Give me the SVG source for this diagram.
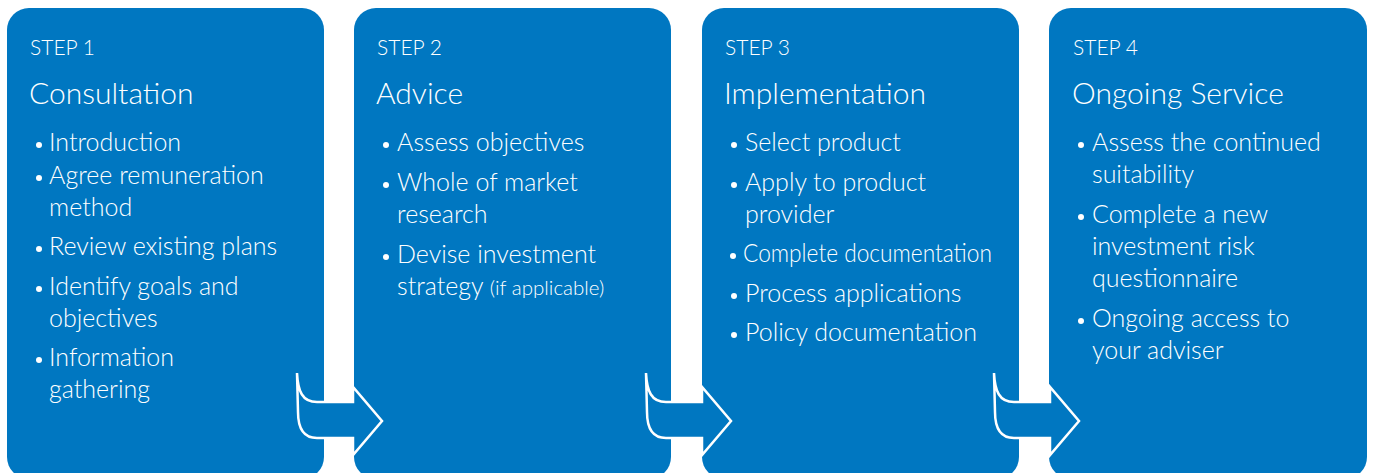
<svg xmlns="http://www.w3.org/2000/svg" xmlns:xlink="http://www.w3.org/1999/xlink" width="1373" height="473" viewBox="0 0 1373 473">
  <style>
    .box { fill: #0077c1; }
    .step { font-family: Lato, "Open Sans", sans-serif; font-size: 21px; font-weight: 300; fill: #ffffff; }
    .title { font-family: Lato, "Open Sans", sans-serif; font-size: 30px; font-weight: 300; fill: #ffffff; }
    .item { font-family: Lato, "Open Sans", sans-serif; font-size: 25px; font-weight: 300; fill: #ffffff; }
    .small { font-size: 20.5px; }
    .dot { fill: #ffffff; }
    .arrow { fill: #0077c1; stroke: #ffffff; stroke-width: 2.5; stroke-linejoin: miter; }
  </style>
  <defs>
    <!-- block arrow linking one step to the next; origin at its tail tip -->
    <path id="step-arrow" class="arrow" d="M0,373 C1,391 5,402 20,402 L56,402 L56,387 L85,421 L56,455 L56,438 L20,438 C6,438 1,428 1,412 Z"/>
  </defs>
  <rect width="1373" height="473" fill="#ffffff"/>

  <g id="step1">
    <rect class="box" x="7" y="8" width="317" height="471" rx="22"/>
    <text class="step" x="30" y="55">STEP 1</text>
    <text class="title" x="29" y="104">Consultation</text>
    <circle class="dot" cx="39" cy="145" r="3"/>
    <text class="item" x="49" y="151">Introduction</text>
    <circle class="dot" cx="39" cy="178" r="3"/>
    <text class="item" x="49" y="184">Agree remuneration</text>
    <text class="item" x="49" y="216">method</text>
    <circle class="dot" cx="39" cy="249" r="3"/>
    <text class="item" x="49" y="255">Review existing plans</text>
    <circle class="dot" cx="39" cy="289" r="3"/>
    <text class="item" x="49" y="295">Identify goals and</text>
    <text class="item" x="49" y="327">objectives</text>
    <circle class="dot" cx="39" cy="360" r="3"/>
    <text class="item" x="49" y="366">Information</text>
    <text class="item" x="49" y="398">gathering</text>
  </g>

  <g id="step2">
    <rect class="box" x="354" y="8" width="317" height="471" rx="22"/>
    <text class="step" x="377" y="55">STEP 2</text>
    <text class="title" x="376" y="104">Advice</text>
    <circle class="dot" cx="386" cy="145" r="3"/>
    <text class="item" x="397" y="151">Assess objectives</text>
    <circle class="dot" cx="386" cy="185" r="3"/>
    <text class="item" x="397" y="191">Whole of market</text>
    <text class="item" x="397" y="223">research</text>
    <circle class="dot" cx="386" cy="257" r="3"/>
    <text class="item" x="397" y="263">Devise investment</text>
    <text class="item" x="397" y="295">strategy <tspan class="small">(if applicable)</tspan></text>
  </g>

  <g id="step3">
    <rect class="box" x="702" y="8" width="317" height="471" rx="22"/>
    <text class="step" x="725" y="55">STEP 3</text>
    <text class="title" x="724" y="104">Implementation</text>
    <circle class="dot" cx="734" cy="145" r="3"/>
    <text class="item" x="745" y="151">Select product</text>
    <circle class="dot" cx="734" cy="185" r="3"/>
    <text class="item" x="745" y="191">Apply to product</text>
    <text class="item" x="745" y="223">provider</text>
    <circle class="dot" cx="733" cy="256" r="3"/>
    <text class="item" x="743" y="262" textLength="249" lengthAdjust="spacingAndGlyphs">Complete documentation</text>
    <circle class="dot" cx="734" cy="296" r="3"/>
    <text class="item" x="745" y="302">Process applications</text>
    <circle class="dot" cx="734" cy="335" r="3"/>
    <text class="item" x="745" y="341">Policy documentation</text>
  </g>

  <g id="step4">
    <rect class="box" x="1049" y="8" width="318" height="471" rx="22"/>
    <text class="step" x="1073" y="55">STEP 4</text>
    <text class="title" x="1072" y="104">Ongoing Service</text>
    <circle class="dot" cx="1081" cy="145" r="3"/>
    <text class="item" x="1092" y="151">Assess the continued</text>
    <text class="item" x="1092" y="183">suitability</text>
    <circle class="dot" cx="1081" cy="217" r="3"/>
    <text class="item" x="1092" y="223">Complete a new</text>
    <text class="item" x="1092" y="255">investment risk</text>
    <text class="item" x="1092" y="287">questionnaire</text>
    <circle class="dot" cx="1081" cy="321" r="3"/>
    <text class="item" x="1092" y="327">Ongoing access to</text>
    <text class="item" x="1092" y="359">your adviser</text>
  </g>

  <g id="connectors">
    <use xlink:href="#step-arrow" transform="translate(297,0)"/>
    <use xlink:href="#step-arrow" transform="translate(646,0)"/>
    <use xlink:href="#step-arrow" transform="translate(994,0)"/>
  </g>
</svg>
